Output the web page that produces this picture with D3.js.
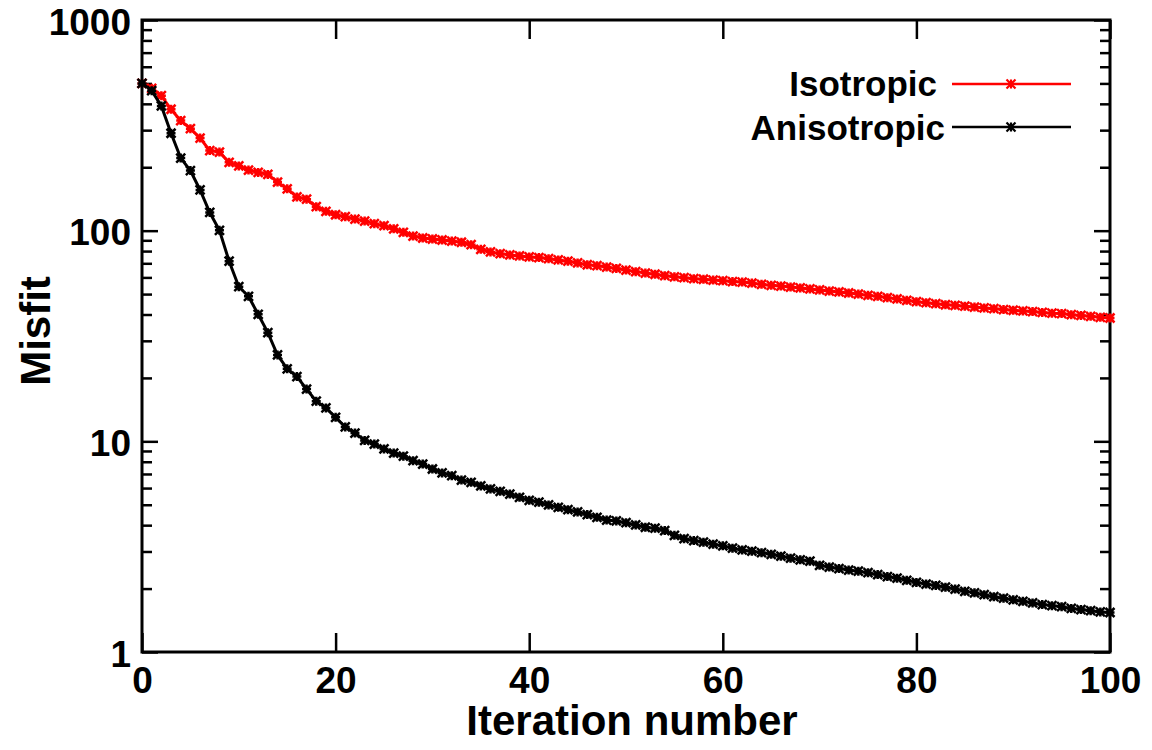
<!DOCTYPE html>
<html>
<head>
<meta charset="utf-8">
<script src="https://cdn.jsdelivr.net/npm/d3@7"></script>
<style>
  body { margin: 0; background: #fff; }
  text { font-family: "Liberation Sans", Arial, Helvetica, sans-serif; font-weight: bold; fill: #000; }
</style>
</head>
<body>
<div class="chart"></div>
<script>
// iteration index (x values)
const iterations = d3.range(0, 101)

const isotropic = [
  500, 474, 437, 377, 333, 305, 275, 240, 236, 211,
  203, 194, 189, 185, 170, 158, 144.5, 141, 130, 123.6,
  119, 116.5, 113.5, 111, 108, 105.6, 102, 98.2, 94.3, 92.3,
  91.3, 90.3, 89.3, 88.1, 85.8, 81.6, 79.3, 77.8, 76.7, 75.9,
  75.0, 74.5, 73.6, 72.6, 71.6, 70.3, 68.9, 68.2, 67.2, 66.2,
  65.0, 63.9, 62.9, 62.1, 61.1, 60.4, 59.8, 59.2, 58.8, 58.3,
  57.9, 57.3, 57.0, 56.4, 55.6, 55.0, 54.6, 54.0, 53.5, 52.9,
  52.3, 51.7, 51.2, 50.6, 50.0, 49.3, 48.8, 48.1, 47.4, 46.7,
  46.0, 45.5, 45.0, 44.5, 44.2, 43.8, 43.4, 43.0, 42.6, 42.2,
  41.9, 41.6, 41.3, 40.9, 40.6, 40.4, 39.9, 39.6, 39.2, 38.8,
  38.5
]

const anisotropic = [
  500, 462, 391, 290, 221, 193, 156, 122, 100.4, 71.6,
  54.2, 48.8, 40.1, 32.8, 25.7, 22.1, 20.3, 17.7, 15.5, 14.4,
  13.0, 11.7, 10.95, 10.1, 9.7, 9.2, 8.8, 8.5, 8.09, 7.80,
  7.39, 7.08, 6.87, 6.55, 6.39, 6.14, 5.94, 5.79, 5.62, 5.42,
  5.25, 5.14, 4.99, 4.86, 4.74, 4.62, 4.49, 4.36, 4.23, 4.19,
  4.11, 4.01, 3.91, 3.87, 3.77, 3.58, 3.45, 3.38, 3.32, 3.25,
  3.19, 3.11, 3.05, 3.01, 2.96, 2.91, 2.85, 2.79, 2.74, 2.70,
  2.58, 2.53, 2.49, 2.45, 2.42, 2.38, 2.33, 2.28, 2.24, 2.19,
  2.14, 2.10, 2.07, 2.03, 1.99, 1.94, 1.91, 1.87, 1.83, 1.80,
  1.77, 1.74, 1.71, 1.68, 1.66, 1.64, 1.61, 1.59, 1.57, 1.55,
  1.54
]

const xTicks = [0, 20, 40, 60, 80, 100]
const yTicks = [1, 10, 100, 1000]
const yTickLabels = ['1', '10', '100', '1000']
const seriesNames = ['Isotropic', 'Anisotropic']
const seriesColors = ['#ff0000', '#000000']

const margin = {top: 20, right: 42, bottom: 98, left: 142},
    width = 1110 - margin.left,
    height = 652 - margin.top;

const svg = d3.select('.chart')
  .append('svg')
    .attr('width', 1152)
    .attr('height', 750)
  .append('g')
    .attr('transform', `translate(${margin.left},${margin.top})`);

const x = d3.scaleLinear().domain([0, 100]).range([0, width]);
const y = d3.scaleLog().domain([1, 1000]).range([height, 0]);

// minor log ticks 2..9 in each decade
const yMinor = y.ticks().filter(v => yTicks.indexOf(v) < 0)

const styleAxis = g => {
  g.select('.domain').remove()
  g.selectAll('.tick line').attr('stroke', '#000').attr('stroke-width', 2.5)
}

// bottom and top axes, ticks pointing inward
svg.append('g')
  .attr('transform', `translate(0,${height})`)
  .call(d3.axisBottom(x).tickValues(xTicks).tickSize(-19).tickPadding(0).tickFormat(d3.format('d')))
  .call(styleAxis)
  .call(g => g.selectAll('.tick text')
      .attr('y', 41).attr('dy', 0)
      .style('font-size', '37px'));

svg.append('g')
  .call(d3.axisTop(x).tickValues(xTicks).tickSize(-19).tickFormat(''))
  .call(styleAxis);

// left axis
svg.append('g')
  .call(d3.axisLeft(y).tickValues(yTicks).tickSize(-16).tickFormat((d, i) => yTickLabels[i]))
  .call(styleAxis)
  .call(g => g.selectAll('.tick text')
      .attr('x', -11).attr('dy', 0).attr('y', 14)
      .style('font-size', '37px'));

svg.append('g')
  .call(d3.axisLeft(y).tickValues(yMinor).tickSize(-10).tickFormat(''))
  .call(styleAxis);

// right axis
svg.append('g')
  .attr('transform', `translate(${width},0)`)
  .call(d3.axisRight(y).tickValues(yTicks).tickSize(-16).tickFormat(''))
  .call(styleAxis);

svg.append('g')
  .attr('transform', `translate(${width},0)`)
  .call(d3.axisRight(y).tickValues(yMinor).tickSize(-10).tickFormat(''))
  .call(styleAxis);

// frame
svg.append('rect')
  .attr('width', width)
  .attr('height', height)
  .attr('fill', 'none')
  .attr('stroke', '#000')
  .attr('stroke-width', 3);

// axis titles
svg.append('text')
  .attr('x', width / 2 + 6)
  .attr('y', height + 83)
  .attr('text-anchor', 'middle')
  .style('font-size', '42px')
  .text('Iteration number');

svg.append('text')
  .attr('transform', `translate(${50 - margin.left},${height / 2 - 5}) rotate(-90)`)
  .attr('text-anchor', 'middle')
  .style('font-size', '42px')
  .text('Misfit');

// asterisk marker (IDL psym 2)
const star = s => `M${-s},0L${s},0M0,${-s}L0,${s}M${-s},${-s}L${s},${s}M${-s},${s}L${s},${-s}`

const series = [isotropic, anisotropic]

const line = d3.line()
  .x((d, i) => x(iterations[i]))
  .y(d => y(d));

series.forEach((values, k) => {
  svg.append('path')
    .datum(values)
    .attr('fill', 'none')
    .attr('stroke', seriesColors[k])
    .attr('stroke-width', 3)
    .attr('d', line);

  svg.append('g')
    .selectAll('path')
    .data(values)
    .join('path')
      .attr('transform', (d, i) => `translate(${x(iterations[i])},${y(d)})`)
      .attr('d', star(4.5))
      .attr('fill', 'none')
      .attr('stroke', seriesColors[k])
      .attr('stroke-width', 2.5);
})

// legend
const legendRows = [
  {name: seriesNames[0], color: seriesColors[0], ly: 84 - margin.top, tx: 937 - margin.left, ty: 96 - margin.top},
  {name: seriesNames[1], color: seriesColors[1], ly: 127 - margin.top, tx: 945 - margin.left, ty: 140 - margin.top}
]

const legend = svg.append('g')
  .selectAll('g')
  .data(legendRows)
  .join('g');

legend.append('text')
  .attr('x', d => d.tx)
  .attr('y', d => d.ty)
  .attr('text-anchor', 'end')
  .style('font-size', '35px')
  .text(d => d.name);

legend.append('line')
  .attr('x1', 952 - margin.left)
  .attr('x2', 1071 - margin.left)
  .attr('y1', d => d.ly)
  .attr('y2', d => d.ly)
  .attr('stroke', d => d.color)
  .attr('stroke-width', 2.5);

legend.append('path')
  .attr('transform', d => `translate(${1011 - margin.left},${d.ly})`)
  .attr('d', star(4.5))
  .attr('fill', 'none')
  .attr('stroke', d => d.color)
  .attr('stroke-width', 2.2);
</script>
</body>
</html>
